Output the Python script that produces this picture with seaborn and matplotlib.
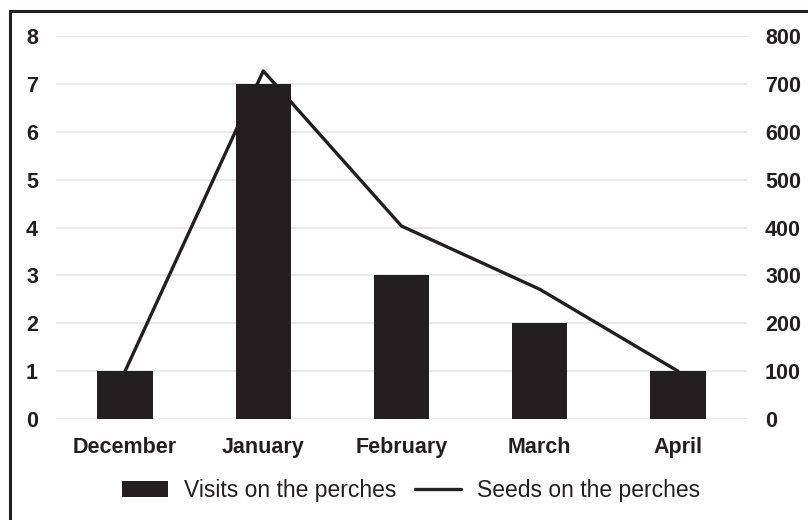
import matplotlib
matplotlib.use('Agg')
import matplotlib.pyplot as plt
import seaborn as sns
import pandas as pd
from matplotlib.patches import Patch
from matplotlib.lines import Line2D

months = ['December', 'January', 'February', 'March', 'April']
visits = [1, 7, 3, 2, 1]
seeds = [100, 727, 403, 271, 100]
left_ticks = [0, 1, 2, 3, 4, 5, 6, 7, 8]
right_ticks = [0, 100, 200, 300, 400, 500, 600, 700, 800]

INK = '#231f20'
GRID = '#e3e3e3'

sns.set_theme(style='white')
plt.rcParams['font.family'] = ['Liberation Sans', 'DejaVu Sans']

df = pd.DataFrame({'month': months, 'visits': visits, 'seeds': seeds})

W, H = 808, 520
fig = plt.figure(figsize=(W / 100, H / 100), dpi=100, facecolor='white')
ax = fig.add_axes([56 / W, 1 - 419 / H, (747 - 56) / W, (419 - 36) / H])
ax2 = ax.twinx()

sns.barplot(data=df, x='month', y='visits', color=INK, width=0.4,
            saturation=1, linewidth=0, ax=ax, zorder=2)
sns.lineplot(x=list(range(len(months))), y=df['seeds'], color=INK, lw=2.4,
             sort=False, ax=ax2, zorder=3)

ax.set_xlim(-0.5, len(months) - 0.5)
ax.set_ylim(0, 8)
ax2.set_ylim(0, 800)
ax.set_yticks(left_ticks)
ax2.set_yticks(right_ticks)
ax.set_xticks(range(len(months)))
ax.set_xticklabels(months)

ax.grid(axis='y', color=GRID, lw=1.2, zorder=0)
ax.set_axisbelow(True)
ax2.grid(False)
for a in (ax, ax2):
    for s in a.spines.values():
        s.set_visible(False)
    a.set_xlabel('')
    a.set_ylabel('')

ax.tick_params(axis='y', length=0, pad=13, labelsize=15.5, labelcolor=INK)
ax.tick_params(axis='x', length=0, pad=13, labelsize=15.5, labelcolor=INK)
ax2.tick_params(axis='y', length=0, pad=13, labelsize=15.5, labelcolor=INK)
for lab in ax.get_xticklabels() + ax.get_yticklabels() + ax2.get_yticklabels():
    lab.set_fontweight('bold')

handles = [Patch(facecolor=INK, edgecolor='none', label='Visits on the perches'),
           Line2D([], [], color=INK, lw=2.4, label='Seeds on the perches')]
fig.legend(handles=handles, loc='center', bbox_to_anchor=(0.509, 0.056),
           ncol=2, frameon=False, fontsize=16.5, handlelength=2.0,
           handletextpad=0.7, columnspacing=0.8, labelcolor=INK)

# outer frame (left and top edges are visible in the original)
fig.add_artist(Line2D([9.5 / W, 9.5 / W], [0, 1 - 11 / H], color=INK, lw=2.2,
                      transform=fig.transFigure))
fig.add_artist(Line2D([9.5 / W, 1], [1 - 11 / H, 1 - 11 / H], color=INK, lw=2.2,
                      transform=fig.transFigure))

fig.savefig('out.png', dpi=100, facecolor='white')
